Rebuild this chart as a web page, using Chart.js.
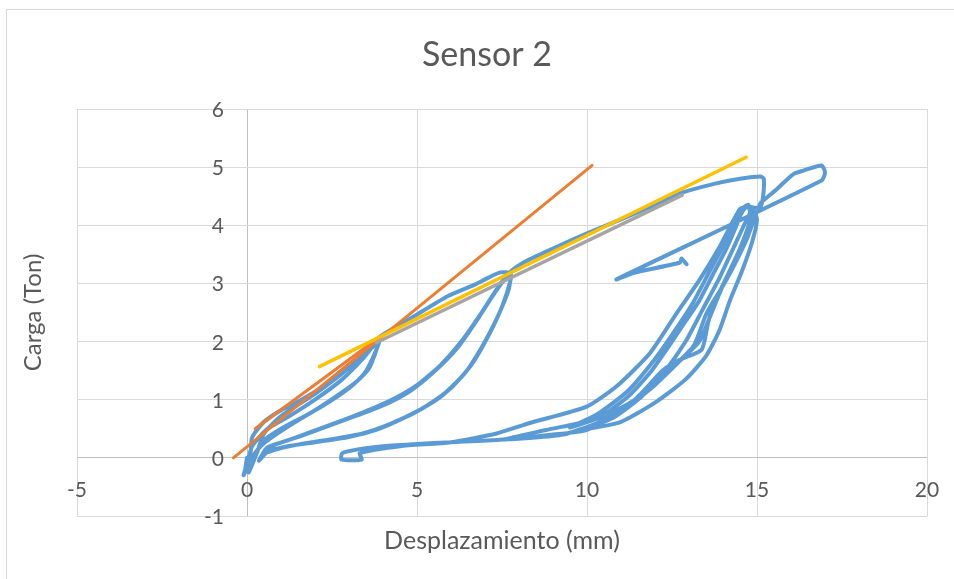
<!DOCTYPE html>
<html>
<head>
<meta charset="utf-8">
<script src="https://cdn.jsdelivr.net/npm/chart.js@4.4.1/dist/chart.umd.min.js"></script>
<style>
  html, body { margin: 0; padding: 0; background: #fff; }
  .wrap { position: relative; width: 954px; height: 579px; overflow: hidden; }
  .frame { position: absolute; left: 6px; top: 9px; width: 1000px; height: 700px; border: 1px solid #d9d9d9; }
  canvas { position: absolute; left: 0; top: 0; }
</style>
</head>
<body>
<div class="wrap">
  <div class="frame"></div>
  <canvas id="sensor2" width="954" height="579"></canvas>
</div>
<script>
// tick labels
const xTicks = [-5, 0, 5, 10, 15, 20];
const yTicks = [-1, 0, 1, 2, 3, 4, 5, 6];

// blue curve (x mm, y Ton)
const firstLoops = [
  [0.0, 0.0], [-0.05, -0.2], [0.1, 0.05], [0.15, 0.35], [0.5, 0.62], [1.0, 0.82], [1.6, 1.0],
  [2.3, 1.25], [3.0, 1.6], [3.6, 1.85], [3.9, 2.02],
  [3.7, 1.72], [3.45, 1.45], [3.0, 1.2], [2.3, 0.92], [1.6, 0.68], [0.9, 0.42], [0.4, 0.2],
  [0.1, -0.05], [-0.1, -0.3],
  [0.0, -0.1], [0.15, 0.2], [0.6, 0.5], [1.2, 0.7], [2.0, 1.0], [2.8, 1.35], [3.4, 1.7], [3.9, 2.05],
  [3.6, 1.55], [3.2, 1.3], [2.6, 1.05], [1.8, 0.75], [1.0, 0.5], [0.5, 0.3], [0.2, 0.0], [0.05, -0.25]
];
const secondLoad = [
  [0.3, 0.1], [0.5, 0.42], [1.0, 0.72], [2.0, 1.1], [3.0, 1.55], [3.9, 2.08], [4.9, 2.43],
  [5.9, 2.78], [6.7, 2.98], [7.1, 3.1], [7.45, 3.19], [7.75, 3.18]
];
const secondLoops = [
  [7.75, 3.05], [7.5, 2.6], [7.1, 2.1], [6.6, 1.6], [6.0, 1.2], [5.3, 0.9], [4.6, 0.68], [3.8, 0.48],
  [3.0, 0.36], [2.0, 0.27], [1.2, 0.2], [0.6, 0.1], [0.35, -0.05],
  [0.6, 0.18], [1.2, 0.3], [1.9, 0.45], [2.6, 0.6], [3.4, 0.78], [4.2, 0.98], [5.0, 1.25], [5.7, 1.6],
  [6.3, 2.0], [6.9, 2.5], [7.4, 2.95], [7.75, 3.2],
  [7.7, 2.9], [7.35, 2.4], [6.9, 1.9], [6.4, 1.45], [5.7, 1.05], [5.0, 0.8], [4.2, 0.58], [3.4, 0.42],
  [2.5, 0.32], [1.6, 0.24], [0.9, 0.15], [0.5, 0.08],
  [0.8, 0.22], [1.6, 0.38], [2.4, 0.55], [3.2, 0.72], [4.0, 0.9], [4.8, 1.15], [5.5, 1.48], [6.2, 1.9],
  [6.8, 2.4], [7.3, 2.85], [7.75, 3.2]
];
const envelope = [
  [8.2, 3.38], [9.0, 3.6], [10.0, 3.86], [11.0, 4.1], [12.0, 4.35], [12.8, 4.56], [13.8, 4.72],
  [14.5, 4.8], [15.1, 4.84], [15.2, 4.8], [15.18, 4.5], [15.1, 4.3]
];
const bigUnload = [
  [14.99, 4.22], [14.7, 3.76], [14.11, 3.07], [13.52, 2.49], [13.13, 1.92], [12.34, 1.46], [11.36, 0.94],
  [10.0, 0.48], [9.0, 0.4], [7.44, 0.31], [6.0, 0.27], [5.0, 0.24], [4.0, 0.2], [3.3, 0.15], [2.8, 0.08],
  [2.78, -0.03], [3.37, -0.03], [3.32, 0.08]
];
const bigReload = [
  [4.5, 0.2], [6.0, 0.27], [7.34, 0.42], [8.32, 0.6], [9.99, 0.88], [10.87, 1.23], [11.85, 1.8],
  [12.64, 2.49], [13.32, 3.07], [13.91, 3.64], [14.5, 4.28], [14.75, 4.32]
];
const lateLoops = [
  [14.9, 4.3], [14.75, 3.9], [14.4, 3.45], [13.95, 2.9], [13.6, 2.4], [13.3, 2.0], [12.7, 1.65],
  [11.9, 1.2], [11.06, 0.83], [10.3, 0.6], [9.3, 0.4], [8.3, 0.34], [7.6, 0.32],
  [8.8, 0.48], [10.3, 0.68], [11.2, 1.05], [11.9, 1.5], [12.5, 2.0], [12.9, 2.35], [13.3, 2.7],
  [13.7, 3.15], [14.1, 3.6], [14.4, 4.0], [14.6, 4.3], [14.75, 4.35],
  [14.8, 4.1], [14.5, 3.6], [14.1, 3.1], [13.7, 2.6], [13.56, 2.32], [13.37, 1.86], [12.74, 1.69],
  [12.24, 1.51], [11.4, 1.0], [10.5, 0.72], [9.5, 0.52],
  [10.3, 0.75], [11.2, 1.15], [12.0, 1.7], [12.6, 2.2], [13.1, 2.65], [13.6, 3.2], [14.2, 3.85],
  [14.65, 4.3], [14.85, 4.3], [15.0, 4.1],
  [14.85, 3.7], [14.55, 3.2], [14.2, 2.7], [13.9, 2.2], [13.5, 1.75], [12.9, 1.35], [12.0, 0.95],
  [11.0, 0.62], [10.0, 0.5],
  [10.8, 0.7], [11.6, 1.05], [12.3, 1.5], [12.9, 2.0], [13.4, 2.55], [13.9, 3.1], [14.3, 3.6],
  [14.7, 4.1], [14.9, 4.3], [15.05, 4.3]
];
const lastExcursion = [
  [15.1, 4.38], [15.58, 4.62], [16.07, 4.88], [16.36, 4.94], [16.9, 5.03], [17.0, 4.91], [16.9, 4.77],
  [10.87, 3.07], [11.36, 3.18], [12.74, 3.36], [12.78, 3.43], [12.93, 3.33]
];

// straight reference lines
const orangeLine = [[-0.4, 0.0], [10.15, 5.03]];
const orangeShort = [[0.24, 0.5], [3.9, 2.08]];
const grayLine = [[3.8, 1.98], [12.8, 4.52]];
const yellowLine = [[2.13, 1.57], [14.68, 5.17]];

const toPts = (arr) => arr.map(([x, y]) => ({ x, y }));

const bluePath = [].concat(firstLoops, secondLoad, secondLoops, envelope, bigUnload, bigReload, lateLoops, lastExcursion);

const FONT = "Lato";
const TEXT = "#595959";

// Excel-style labels sitting on the zero axes, plus the chart title
const chartText = {
  id: "chartText",
  beforeDatasetsDraw(chart) {
    const { ctx, scales: { x, y } } = chart;
    const x0 = x.getPixelForValue(0);
    const y0 = y.getPixelForValue(0);
    ctx.save();
    ctx.fillStyle = TEXT;
    ctx.font = `21px ${FONT}`;
    ctx.textBaseline = "alphabetic";
    ctx.textAlign = "center";
    xTicks.forEach((v) => ctx.fillText(String(v), x.getPixelForValue(v), y0 + 39));
    ctx.textAlign = "right";
    yTicks.forEach((v) => ctx.fillText(String(v), x0 - 23, y.getPixelForValue(v) + 8));
    ctx.font = `34px ${FONT}`;
    ctx.textAlign = "center";
    ctx.textBaseline = "middle";
    ctx.fillText("Sensor 2", 487, 55);
    ctx.restore();
  },
};

function line(data, color, width, order, tension) {
  return {
    data: toPts(data),
    showLine: true,
    borderColor: color,
    backgroundColor: color,
    borderWidth: width,
    pointRadius: 0,
    tension: tension,
    borderCapStyle: "round",
    borderJoinStyle: "round",
    order: order,
  };
}

const gridColor = (c) => (c.tick && c.tick.value === 0 ? "#bfbfbf" : "#d9d9d9");

new Chart(document.getElementById("sensor2"), {
  type: "scatter",
  data: {
    datasets: [
      line(bluePath, "#5b9bd5", 4, 5, 0.2),
      line(orangeLine, "#ed7d31", 3, 3, 0),
      line(orangeShort, "#ed7d31", 3, 4, 0),
      line(grayLine, "#a5a5a5", 3.5, 2, 0),
      line(yellowLine, "#ffc000", 3.5, 1, 0),
    ],
  },
  options: {
    responsive: false,
    animation: false,
    devicePixelRatio: 1,
    layout: { padding: { left: 10, right: 27, top: 109, bottom: 20 } },
    plugins: {
      legend: { display: false },
      tooltip: { enabled: false },
    },
    scales: {
      x: {
        type: "linear",
        min: -5,
        max: 20,
        ticks: { stepSize: 5, display: false },
        grid: { color: gridColor, drawTicks: false },
        border: { display: false },
        title: {
          display: true,
          text: "Desplazamiento (mm)",
          color: TEXT,
          font: { family: FONT, size: 25 },
          padding: { top: 10, bottom: 3 },
        },
      },
      y: {
        type: "linear",
        min: -1,
        max: 6,
        ticks: { stepSize: 1, display: false },
        grid: { color: gridColor, drawTicks: false },
        border: { display: false },
        title: {
          display: true,
          text: "Carga (Ton)",
          color: TEXT,
          font: { family: FONT, size: 24 },
          padding: { top: 8.6, bottom: 29.6 },
        },
      },
    },
  },
  plugins: [chartText],
});
</script>
</body>
</html>
